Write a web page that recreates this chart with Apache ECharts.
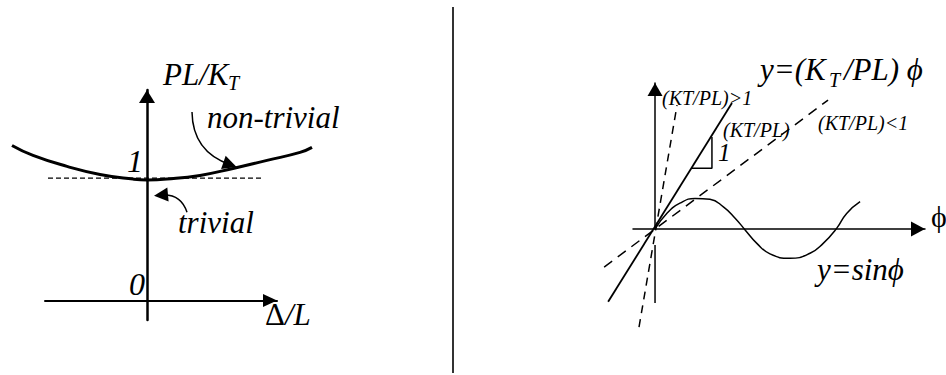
<!DOCTYPE html>
<html>
<head>
<meta charset="utf-8">
<script src="https://cdn.jsdelivr.net/npm/echarts@6/dist/echarts.min.js"></script>
<style>
  html, body { margin: 0; padding: 0; background: #fff; }
  #chart { width: 946px; height: 375px; }
</style>
</head>
<body>
<div id="chart"></div>
<script>
// left panel: load vs imperfection
var branchDelta = [-1.35, -1.14, -0.80, -0.47, -0.14, 0, 0.20, 0.53, 0.86, 1.20, 1.53, 1.65]
var branchLoad  = [1.267, 1.186, 1.096, 1.030, 0.992, 0.985, 0.992, 1.022, 1.079, 1.145, 1.210, 1.251]
var trivialDelta = [-0.99, 1.15]
var trivialLoad = [1, 1]
var nonTrivialArrow = [[0.45, 1.54], [0.83, 1.11]]
var trivialArrow = [[0.40, 0.72], [0.14, 0.86]]

// right panel: y = sin(phi) as drawn
var phi  = [0, 0.41, 0.87, 1.40, 1.92, 2.39, 2.80, 3.15, 3.56, 4.02, 4.72, 5.42, 5.88, 6.35, 6.70, 7.17]
var sinY = [0, 0.52, 0.86, 1.02, 0.99, 0.74, 0.36, -0.03, -0.48, -0.83, -0.98, -0.81, -0.48, 0.02, 0.52, 0.91]
// straight lines through the origin (end points)
var lineEqual = [[-1.64, -2.43], [2.69, 4.20]]
var lineSteep = [[-0.56, -3.27], [0.77, 4.13]]
var lineShallow = [[-1.78, -1.27], [6.05, 4.30]]
var slopeTri = [[1.29, 2.03], [1.99, 2.03], [1.99, 3.07]]
var axisBelow = [[0, -0.53], [0, -2.47]]

function zip(xs, ys) {
  return xs.map(function (x, i) { return [x, ys[i]] })
}

var serif = "'Liberation Serif', 'DejaVu Serif', serif"
function txt(x, y, s, size, italic) {
  return {
    type: "text", left: x, top: y,
    style: {
      text: s, fill: "#000",
      font: (italic === false ? "" : "italic ") + size + "px " + serif
    }
  }
}

var myChart = echarts.init(document.getElementById("chart"), null, { renderer: "svg" })

var hidden = {
  show: false, type: "value",
  axisLine: { onZero: false }
}
function shown(grid, min, max, w, size) {
  return {
    type: "value", gridIndex: grid, min: min, max: max,
    axisTick: { show: false },
    axisLabel: { show: false },
    splitLine: { show: false },
    axisLine: {
      onZero: true, symbol: ["none", "triangle"], symbolSize: size,
      symbolOffset: [0, -size[1] / 2],
      lineStyle: { color: "#000", width: w }
    }
  }
}
// plain line series on the hidden (full panel) grids
function path(axis, data, w, dash, smooth) {
  return {
    type: "line", xAxisIndex: axis, yAxisIndex: axis, data: data,
    smooth: !!smooth, showSymbol: false, silent: true,
    lineStyle: { color: "#000", width: w, type: dash || "solid" }
  }
}
// curved pointer arrow
function pointer(ends, bend) {
  return {
    type: "lines", coordinateSystem: "cartesian2d", xAxisIndex: 2, yAxisIndex: 2,
    silent: true, symbol: ["none", "triangle"], symbolSize: [13, 14],
    lineStyle: { color: "#000", width: 1.5, opacity: 1, curveness: bend },
    data: [{ coords: ends }]
  }
}

myChart.setOption({
  animation: false,
  backgroundColor: "#fff",
  grid: [
    // visible axes
    { left: 45, right: 669, top: 90, bottom: 55, outerBoundsMode: "none" },
    { left: 633, right: 21, top: 83, bottom: 146, outerBoundsMode: "none" },
    // same scales, whole panel, for the marks
    { left: 0, right: 493, top: 10, bottom: 15, outerBoundsMode: "none" },
    { left: 473, right: 0, top: 10, bottom: 15, outerBoundsMode: "none" }
  ],
  xAxis: [
    shown(0, -1.02, 1.30, 2, [13, 14]),
    shown(1, -0.77, 9.44, 1.5, [15, 14]),
    Object.assign({ gridIndex: 2, min: -1.47, max: 3.06 }, hidden),
    Object.assign({ gridIndex: 3, min: -6.365, max: 10.174 }, hidden)
  ],
  yAxis: [
    shown(0, -0.16, 1.72, 2.5, [16, 13]),
    shown(1, 0, 4.87, 1.5, [15, 13]),
    Object.assign({ gridIndex: 2, min: -0.4869, max: 2.374 }, hidden),
    Object.assign({ gridIndex: 3, min: -4.370, max: 7.305 }, hidden)
  ],
  series: [
    path(2, zip(branchDelta, branchLoad), 3, null, true),
    path(2, zip(trivialDelta, trivialLoad), 1.2, [5, 3]),
    pointer(nonTrivialArrow, -0.35),
    pointer(trivialArrow, -0.4),
    path(3, zip(phi, sinY), 1.5, null, true),
    path(3, lineEqual, 1.8),
    path(3, lineSteep, 1.5, [8, 6]),
    path(3, lineShallow, 1.5, [10, 7]),
    path(3, slopeTri, 1.5),
    path(3, axisBelow, 1.5)
  ],
  graphic: [
    // divider
    { type: "line", shape: { x1: 453, y1: 7, x2: 453, y2: 373 }, style: { stroke: "#333", lineWidth: 2 } },
    // left labels
    txt(163, 59, "PL/K", 31),
    txt(228, 73, "T", 20),
    txt(207, 102, "non-trivial", 31),
    txt(127, 145, "1", 32),
    txt(129, 268, "0", 32),
    txt(178, 207, "trivial", 31),
    txt(265, 299, "\u0394", 31, false),
    txt(285, 299, "/L", 31),
    // right labels
    txt(760, 54, "y=(K", 31),
    txt(829, 70, "T", 20),
    txt(844, 54, "/PL) \u03d5", 31),
    txt(662, 88, "(KT/PL)>1", 20),
    txt(723, 120, "(KT/PL)", 20),
    txt(818, 113, "(KT/PL)<1", 20),
    txt(718, 140, "1", 25),
    txt(817, 254, "y=sin\u03d5", 31),
    txt(931, 201, "\u03d5", 30, false)
  ]
})
</script>
</body>
</html>
